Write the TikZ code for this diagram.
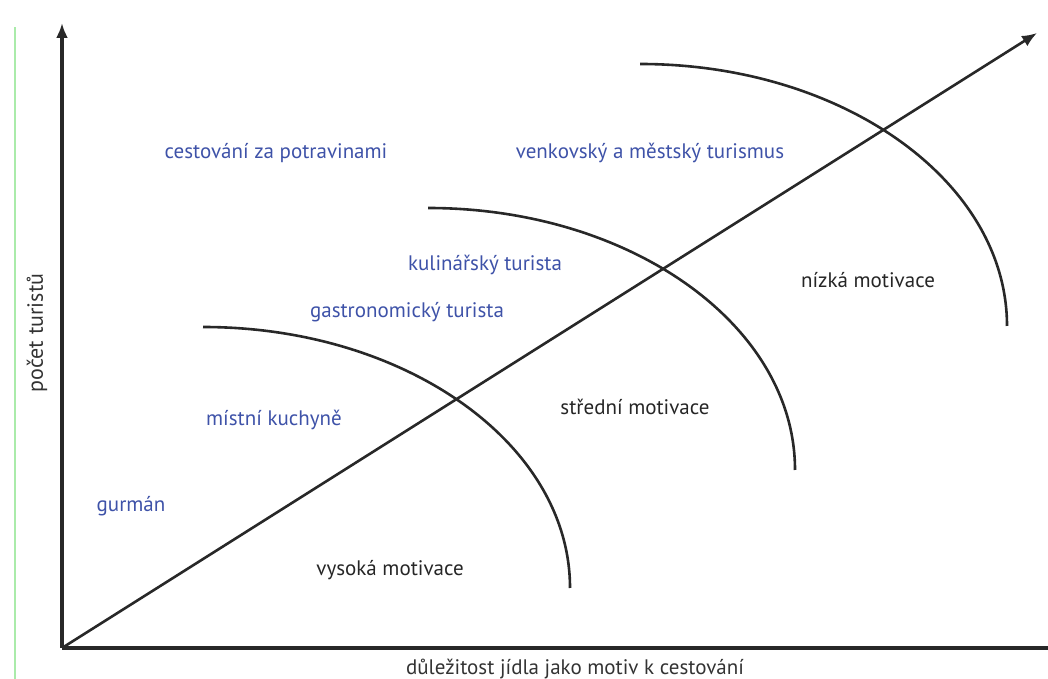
\documentclass[tikz,border=0pt]{standalone}
\usepackage{fontspec}
\setmainfont{PT Sans}
\usetikzlibrary{arrows.meta}

\definecolor{labelblue}{RGB}{62,82,168}
\definecolor{axisgray}{RGB}{40,40,40}
\definecolor{edgegreen}{RGB}{170,235,170}

\begin{document}
\begin{tikzpicture}[x=1pt,y=1pt,
    >={Latex[length=15pt,width=12pt]},
    axis/.style={draw=axisgray,line width=3.2pt},
    curve/.style={draw=axisgray,line width=2.6pt},
    grp/.style={text=labelblue,font=\fontsize{21}{25}\selectfont},
    motiv/.style={text=black!85,font=\fontsize{21}{25}\selectfont}]
    \useasboundingbox (0,0) rectangle (1048,679);

    % Edge line
    \draw[edgegreen,line width=1.5pt] (15,0) -- (15,652);

    % Axes
    \coordinate (O) at (62,31);
    \coordinate (ytop) at (62,656);
    \coordinate (xend) at (1048,31);
    \coordinate (dtop) at (1037,646);
    \draw[axis,->] (O) -- (ytop);
    \draw[axis] (O) -- (xend);
    \draw[curve,->] (O) -- (dtop);

    % Motivation arcs
    \draw[curve] (203,352) arc[start angle=90,end angle=0,x radius=367pt,y radius=261pt];
    \draw[curve] (428,471) arc[start angle=90,end angle=0,x radius=367pt,y radius=262pt];
    \draw[curve] (640,615) arc[start angle=90,end angle=0,x radius=367pt,y radius=262pt];

    % Axis labels
    \node[rotate=90,font=\fontsize{22}{26}\selectfont,text=black!80] (ylab) at (37,346) {počet turistů};
    \node[font=\fontsize{21}{25}\selectfont,text=black!80] (xlab) at (575,10) {důležitost jídla jako motiv k cestování};

    % Tourist types
    \node[grp] (potraviny) at (276,526) {cestování za potravinami};
    \node[grp] (venkov) at (650,526) {venkovský a městský turismus};
    \node[grp] (kulinar) at (485,414) {kulinářský turista};
    \node[grp] (gastro) at (407,367) {gastronomický turista};
    \node[grp] (kuchyne) at (274,259) {místní kuchyně};
    \node[grp] (gurman) at (131,173) {gurmán};

    % Motivation levels
    \node[motiv] (nizka) at (868,399) {nízká motivace};
    \node[motiv] (stredni) at (635,272) {střední motivace};
    \node[motiv] (vysoka) at (390,109) {vysoká motivace};
\end{tikzpicture}
\end{document}
